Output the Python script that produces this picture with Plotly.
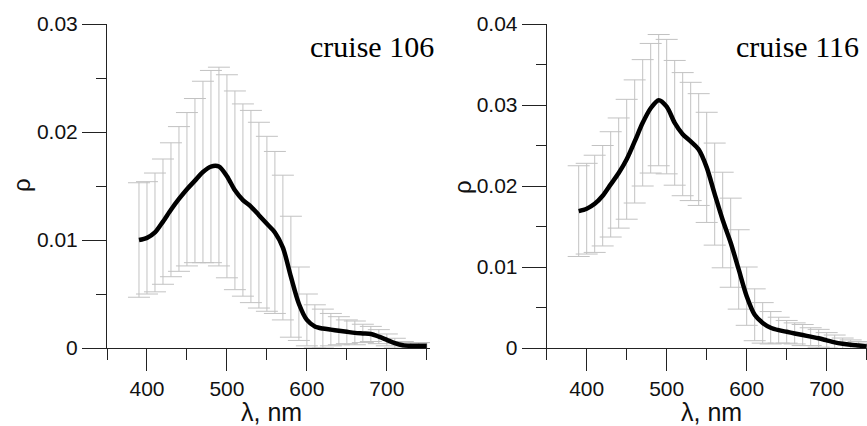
import plotly.graph_objects as go

W, H = 867, 426

wavelength = list(range(390, 751, 10))

mean_106 = [0.0100, 0.0102, 0.0107, 0.0117, 0.0128, 0.0138, 0.0147, 0.0155, 0.0163, 0.0168,
            0.0168, 0.0159, 0.0146, 0.0137, 0.0131, 0.0123, 0.0115, 0.0107, 0.0093, 0.0066,
            0.0041, 0.0026, 0.0020, 0.0018, 0.0017, 0.0016, 0.0015, 0.0014, 0.00135, 0.0013,
            0.00105, 0.00075, 0.00045, 0.00025, 0.0002, 0.0002, 0.0002]
sd_106 = [0.0053, 0.0052, 0.0055, 0.0058, 0.0062, 0.0067, 0.0071, 0.0076, 0.0084, 0.0089,
          0.0092, 0.0094, 0.0092, 0.0089, 0.0089, 0.0086, 0.0081, 0.0075, 0.0067, 0.0056,
          0.0034, 0.0024, 0.0020, 0.0018, 0.0015, 0.0013, 0.0011, 0.0011, 0.00085, 0.0007,
          0.00065, 0.00055, 0.00045, 0.00035, 0.0003, 0.0003, 0.0003]

mean_116 = [0.0169, 0.0172, 0.0178, 0.0188, 0.0202, 0.0216, 0.0233, 0.0255, 0.0278, 0.0296,
            0.0306, 0.0298, 0.0278, 0.0264, 0.0255, 0.0245, 0.0223, 0.0190, 0.0158, 0.0130,
            0.0097, 0.0064, 0.0041, 0.0031, 0.0025, 0.0022, 0.0020, 0.0018, 0.0016, 0.0014,
            0.0012, 0.00095, 0.0007, 0.00053, 0.0004, 0.0003, 0.0002]
sd_116 = [0.0056, 0.0056, 0.0060, 0.0062, 0.0065, 0.0068, 0.0074, 0.0076, 0.0078, 0.0080,
          0.0081, 0.0083, 0.0077, 0.0076, 0.0073, 0.0069, 0.0068, 0.0063, 0.0059, 0.0055,
          0.0049, 0.0036, 0.0032, 0.0025, 0.0020, 0.0016, 0.0014, 0.0013, 0.0013, 0.0011,
          0.0011, 0.00095, 0.0009, 0.0007, 0.0006, 0.0005, 0.0004]

panel_labels = ["cruise 106", "cruise 116"]
y_ticks_106 = [0, 0.01, 0.02, 0.03]
y_tick_text_106 = ["0", "0.01", "0.02", "0.03"]
y_ticks_116 = [0, 0.01, 0.02, 0.03, 0.04]
y_tick_text_116 = ["0", "0.01", "0.02", "0.03", "0.04"]
x_ticks = [400, 500, 600, 700]
x_title = "λ, nm"
y_title = "ρ"

fig = go.Figure()

ERR_COLOR = "#c2c2c2"
for mean, sd, xa, ya in [(mean_106, sd_106, "x", "y"), (mean_116, sd_116, "x2", "y2")]:
    fig.add_trace(go.Scatter(
        x=wavelength, y=mean, mode="markers", xaxis=xa, yaxis=ya,
        marker=dict(size=1, color="rgba(0,0,0,0)"),
        error_y=dict(type="data", array=sd, visible=True, color=ERR_COLOR,
                     thickness=1, width=11),
        showlegend=False, hoverinfo="skip"))
    fig.add_trace(go.Scatter(
        x=wavelength, y=mean, mode="lines", xaxis=xa, yaxis=ya,
        line=dict(color="black", width=4.5, shape="spline", smoothing=0.8),
        showlegend=False))

tick_font = dict(family="Arial, 'Liberation Sans', sans-serif", size=21, color="#111111")
AX = "#222222"

def px_x(p):
    return p / W

def px_y(p):
    return 1 - p / H

y_dom = [px_y(348), px_y(24)]

common_x = dict(showline=True, linecolor=AX, linewidth=1, ticks="outside", ticklen=22,
                tickcolor=AX, tickwidth=1, tickvals=x_ticks, tickfont=tick_font,
                showgrid=False, zeroline=False, automargin=False,
                minor=dict(tickvals=[350, 450, 550, 650, 750], ticks="outside", ticklen=11,
                           tickcolor=AX, tickwidth=1, showgrid=False))
common_y = dict(showline=True, linecolor=AX, linewidth=1, ticks="outside", ticklen=24,
                tickcolor=AX, tickwidth=1, tickfont=tick_font, showgrid=False,
                zeroline=False, automargin=False, domain=y_dom)

fig.update_layout(
    width=W, height=H, margin=dict(l=0, r=0, t=0, b=0),
    paper_bgcolor="white", plot_bgcolor="white",
    xaxis=dict(common_x, domain=[px_x(107), px_x(430)], range=[350, 754], anchor="y"),
    yaxis=dict(common_y, range=[0, 0.03], tickvals=y_ticks_106, ticktext=y_tick_text_106,
               anchor="x",
               minor=dict(tickvals=[0.005, 0.015, 0.025], ticks="outside", ticklen=10,
                          tickcolor=AX, tickwidth=1, showgrid=False)),
    xaxis2=dict(common_x, domain=[px_x(546.7), 1.0], range=[350, 750.4], anchor="y2"),
    yaxis2=dict(common_y, range=[0, 0.04], tickvals=y_ticks_116, ticktext=y_tick_text_116,
                anchor="x2",
                minor=dict(tickvals=[0.005, 0.015, 0.025, 0.035], ticks="outside", ticklen=10,
                           tickcolor=AX, tickwidth=1, showgrid=False)),
)

title_font = dict(family="Arial, 'Liberation Sans', sans-serif", size=25, color="#111111")
serif_font = dict(family="'Times New Roman', 'Liberation Serif', serif", size=30, color="black")

annotations = [
    dict(text=panel_labels[0], x=px_x(436), y=px_y(46), xanchor="right", yanchor="middle",
         font=serif_font),
    dict(text=panel_labels[1], x=px_x(861), y=px_y(46), xanchor="right", yanchor="middle",
         font=serif_font),
    dict(text=x_title, x=px_x(271), y=px_y(412), xanchor="center", yanchor="middle",
         font=title_font),
    dict(text=x_title, x=px_x(711), y=px_y(412), xanchor="center", yanchor="middle",
         font=title_font),
    dict(text=y_title, x=px_x(22), y=px_y(185), xanchor="center", yanchor="middle",
         textangle=-90, font=dict(title_font, size=24)),
    dict(text=y_title, x=px_x(462), y=px_y(187), xanchor="center", yanchor="middle",
         textangle=-90, font=dict(title_font, size=24)),
]
for a in annotations:
    a.update(xref="paper", yref="paper", showarrow=False)
fig.update_layout(annotations=annotations)

fig.write_html("out.html", config={"displayModeBar": False},
               post_script="document.body.style.margin='0px';document.body.style.overflow='hidden';")
